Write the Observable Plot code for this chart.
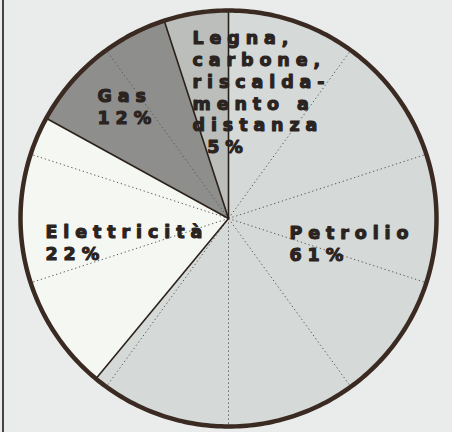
<!DOCTYPE html>
<html><head><meta charset="utf-8">
<script src="https://cdn.jsdelivr.net/npm/d3@7"></script>
<script src="https://cdn.jsdelivr.net/npm/@observablehq/plot@0.6"></script>
<style>
html,body{margin:0;padding:0;}
body{width:452px;height:432px;overflow:hidden;background:linear-gradient(to right,#e9ecea 0,#e9ecea 2px,#4a4440 2px,#4a4440 4px,#e9ecea 4px);}
#chart svg{background:transparent;}
#chart svg g.lbl text{letter-spacing:5.9px;font-weight:bold;stroke:#2a2320;stroke-width:1.1px;stroke-linejoin:round;}
</style></head><body><div id="chart"></div>
<script>
// ---- data ----
const categories = ["Petrolio", "Elettricità", "Gas", "Legna, carbone, riscaldamento a distanza"];
const values = [61, 22, 12, 5];
const labelLines = ["Petrolio\n61%", "Elettricità\n22%", "Gas\n12%", "Legna,\ncarbone,\nriscalda-\nmento a\ndistanza\n\u20025%"];
const gridStepPct = 10;

// ---- style / layout ----
const fills = ["#d5d9d7", "#f5f7f3", "#8e8f8c", "#bcbebb"];
const W = 452, H = 432, CX = 228, CY = 218, R = 208;
const labelPos = [[61, -5.5], [-183, -4.5], [-131, 131.5], [-36, 189.5]];

const total = d3.sum(values);
const toXY = (a, r) => ({x: r * Math.sin(a), y: r * Math.cos(a)});
let acc = 0;
const slices = values.map((v, i) => {
  const a0 = acc / total * 2 * Math.PI; acc += v;
  const a1 = acc / total * 2 * Math.PI;
  const n = Math.max(4, Math.ceil((a1 - a0) / 0.01));
  const pts = [{x: 0, y: 0}];
  for (let k = 0; k <= n; k++) pts.push(toXY(a0 + (a1 - a0) * k / n, R));
  pts.push({x: 0, y: 0});
  return {cat: categories[i], a0, a1, pts};
});
const boundaries = slices.map(s => toXY(s.a0, R));
const spokes = d3.range(0, 100, gridStepPct).map(p => toXY(p / 100 * 2 * Math.PI, R));
const circle = d3.range(0, 361).map(d => toXY(d / 180 * Math.PI, R));

const labels = labelLines.map((t, i) => ({t, x: labelPos[i][0], y: labelPos[i][1]}));

const chart = Plot.plot({
  width: W, height: H,
  margin: 0,
  x: {domain: [-CX, W - CX], range: [0, W], axis: null},
  y: {domain: [CY - H, CY], range: [H, 0], axis: null},
  style: {background: "transparent"},
  marks: [
    ...slices.map((s, i) => Plot.line(s.pts, {x: "x", y: "y", fill: fills[i], stroke: "none", curve: "linear"})),
    Plot.link(spokes, {x1: d => 0, y1: d => 0, x2: "x", y2: "y", stroke: "#5a5a58", strokeWidth: 1, strokeDasharray: "1.3,2.7"}),
    Plot.link(boundaries, {x1: d => 0, y1: d => 0, x2: "x", y2: "y", stroke: "#2b211b", strokeWidth: 1.6}),
    Plot.line(circle, {x: "x", y: "y", stroke: "#3a2a22", strokeWidth: 4.5}),
    Plot.text(labels, {x: "x", y: "y", text: "t", textAnchor: "start", lineAnchor: "top", lineHeight: 1.24,
      fontFamily: "DejaVu Sans", fontWeight: "bold", fontSize: 17.5, fill: "#2a2320", className: "lbl"})
  ]
});
document.getElementById("chart").appendChild(chart);
</script></body></html>
